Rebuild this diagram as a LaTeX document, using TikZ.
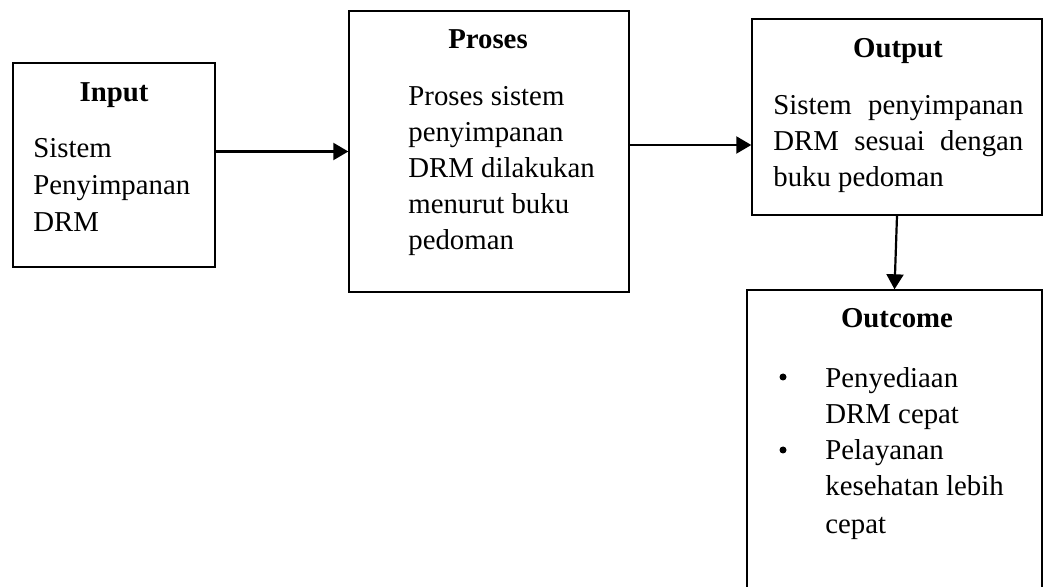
\documentclass[tikz,border=0pt]{standalone}
\usepackage{fontspec}
\setmainfont{Liberation Serif}
\usetikzlibrary{arrows.meta}
\begin{document}
\begin{tikzpicture}[x=0.5pt,y=-0.5pt,
    box/.style={draw, line width=0.7pt, inner sep=0pt},
    title/.style={anchor=base, inner sep=0pt, font=\fontsize{14.4}{18}\selectfont\bfseries},
    body/.style={anchor=base west, align=left, inner sep=0pt, font=\fontsize{14.4}{18}\selectfont},
    dot/.style={circle, fill, inner sep=0pt, minimum size=3.5pt},
    link/.style={line width=1.1pt, -{Triangle[length=7.5pt,width=8.5pt]}}]
    \useasboundingbox (0,0) rectangle (1044,587);
    \clip (0,0) rectangle (1044,587);

    % Input
    \node[box, minimum width=101pt, minimum height=102pt] (inp) at (114,165) {};
    \node[title] (inptitle) at (114,102) {Input};
    \node[body, font=\fontsize{14.4}{18.5}\selectfont] (inptext) at (33,232) {Sistem\\Penyimpanan\\DRM};

    % Proses
    \node[box, minimum width=140pt, minimum height=140.5pt] (prs) at (489,151.5) {};
    \node[title] (prstitle) at (488,49) {Proses};
    \node[body] (prstext) at (408,250) {Proses sistem\\penyimpanan\\DRM dilakukan\\menurut buku\\pedoman};

    % Output
    \node[box, minimum width=145pt, minimum height=98pt] (out) at (897,117) {};
    \node[title] (outtitle) at (898,58) {Output};
    \node[body] (outtext) at (773,187) {\makebox[125pt][s]{Sistem penyimpanan}\\\makebox[125pt][s]{DRM sesuai dengan}\\buku pedoman};

    % Outcome (runs past the bottom edge)
    \node[box, minimum width=147.5pt, minimum height=155pt] (res) at (894.5,445) {};
    \node[title] (restitle) at (897,328) {Outcome};
    \node[body] (restext) at (825,533) {Penyediaan\\DRM cepat\\Pelayanan\\kesehatan lebih\\[1pt]cepat};
    \node[dot] (dot1) at (783,377) {};
    \node[dot] (dot2) at (783,450) {};

    % Connectors
    \draw[link] (inp.east |- prs.west) -- (prs.west);
    \draw[link] ([yshift=3.25pt]prs.east) -- ([yshift=3.25pt]prs.east -| out.west);
    \draw[link] (out.south) -- (res.north);
\end{tikzpicture}
\end{document}
